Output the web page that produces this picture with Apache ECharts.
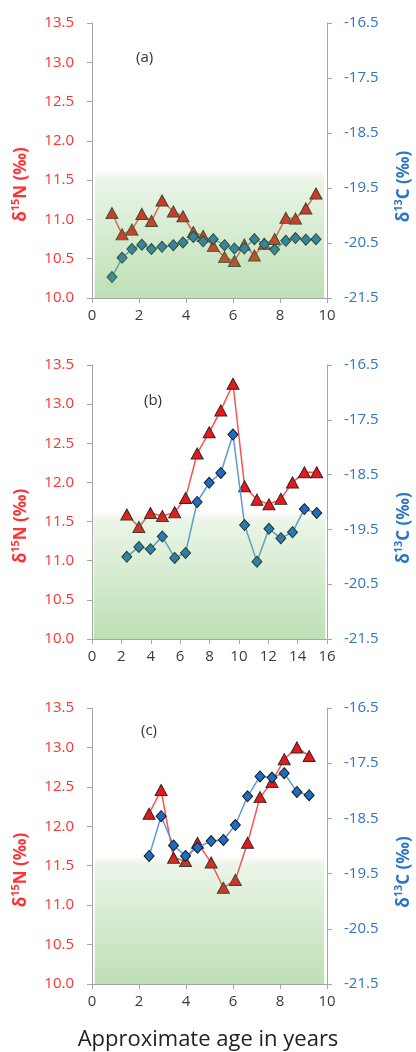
<!DOCTYPE html>
<html><head><meta charset="utf-8">
<script src="https://cdn.jsdelivr.net/npm/echarts@6/dist/echarts.min.js"></script>
<style>html,body{margin:0;padding:0;background:#fff}#c{width:416px;height:1052px}</style>
</head><body><div id="c"></div>
<script>
// Panel (a)
var ageA = [0.85,1.28,1.70,2.12,2.53,2.98,3.46,3.87,4.31,4.73,5.16,5.64,6.06,6.48,6.91,7.33,7.77,8.25,8.66,9.10,9.53];
var nA = [11.08,10.81,10.87,11.07,10.98,11.24,11.10,11.04,10.84,10.79,10.66,10.52,10.47,10.68,10.54,10.69,10.75,11.02,11.01,11.14,11.33];
var cA = [-21.12,-20.77,-20.61,-20.53,-20.61,-20.57,-20.54,-20.49,-20.39,-20.47,-20.43,-20.54,-20.60,-20.60,-20.43,-20.52,-20.62,-20.46,-20.41,-20.44,-20.43];
// Panel (b)
var ageB = [2.37,3.19,3.98,4.79,5.63,6.37,7.16,7.98,8.77,9.60,10.39,11.23,12.05,12.86,13.65,14.46,15.30];
var nB = [11.59,11.43,11.61,11.57,11.62,11.80,12.37,12.64,12.92,13.26,11.95,11.78,11.72,11.79,12.00,12.13,12.13];
var cB = [-20.00,-19.82,-19.86,-19.63,-20.02,-19.93,-19.00,-18.65,-18.47,-17.77,-19.42,-20.09,-19.49,-19.66,-19.55,-19.13,-19.20];
// Panel (c)
var ageC = [2.43,2.94,3.47,3.98,4.49,5.07,5.59,6.10,6.62,7.15,7.66,8.18,8.72,9.24];
var nC = [12.16,12.46,11.60,11.56,11.79,11.54,11.22,11.32,11.79,12.37,12.56,12.85,13.00,12.89];
var cC = [-19.18,-18.46,-18.99,-19.18,-19.03,-18.91,-18.89,-18.62,-18.10,-17.74,-17.76,-17.68,-18.02,-18.08];
// Axes
var xMax = [10, 16, 10];
var nAxis = {min: 10, max: 13.5, interval: 0.5};
var cAxis = {min: -21.5, max: -16.5, interval: 1};
var greenTop = 11.63;
var panelLabels = ['(a)', '(b)', '(c)'];
var xTitle = 'Approximate age in years';

var FONT = 'Open Sans';
var RED = '#ff3333', BLUE = '#2e75c4';
var grids = [{top: 23, height: 275}, {top: 365, height: 274}, {top: 708, height: 276}];
var labelPos = [[131, 45], [139, 388], [136, 718]];
var ages = [ageA, ageB, ageC], ns = [nA, nB, nC], cs = [cA, cB, cC];

function pairs(x, y) { return x.map(function (v, i) { return [v, y[i]]; }); }

var option = {
  animation: false,
  backgroundColor: '#fff',
  textStyle: {fontFamily: FONT},
  title: [{text: xTitle, left: 'center', top: 1024, textStyle: {fontFamily: FONT, fontSize: 22, fontWeight: 'normal', color: '#222'}}]
    .concat(panelLabels.map(function (t, i) {
      return {text: t, left: labelPos[i][0], top: labelPos[i][1], textStyle: {fontFamily: FONT, fontSize: 15, fontWeight: 'normal', color: '#333'}};
    })),
  grid: grids.map(function (g) { return {left: 92, right: 89, top: g.top, height: g.height, containLabel: false, outerBoundsMode: 'none'}; }),
  xAxis: [], yAxis: [], series: []
};

var axLine = {lineStyle: {color: '#a6a6a6', width: 1}};
for (var i = 0; i < 3; i++) {
  option.xAxis.push({
    type: 'value', gridIndex: i, min: 0, max: xMax[i], interval: 2,
    axisLine: axLine, axisTick: {show: true, length: 5, lineStyle: {color: '#a6a6a6'}},
    splitLine: {show: false},
    axisLabel: {color: '#3a3a48', fontSize: 15, fontFamily: FONT, margin: 10}
  });
  option.yAxis.push({
    type: 'value', gridIndex: i, min: nAxis.min, max: nAxis.max, interval: nAxis.interval, position: 'left',
    axisLine: {show: true, lineStyle: {color: '#a6a6a6'}}, axisTick: {show: true, length: 5, lineStyle: {color: '#a6a6a6'}},
    splitLine: {show: false},
    axisLabel: {color: RED, fontSize: 15, fontFamily: FONT, margin: 18, formatter: function (v) { return v.toFixed(1); }},
    name: '{a|δ}{b|15}{a|N (‰)}', nameLocation: 'middle', nameGap: 60, nameRotate: 90,
    nameTextStyle: {color: RED, padding: [0, 48, 0, 0], rich: {
      a: {fontSize: 17, fontWeight: 'bold', color: RED, fontFamily: FONT},
      b: {fontSize: 11, fontWeight: 'bold', color: RED, fontFamily: FONT, verticalAlign: 'top', lineHeight: 22}
    }}
  });
  option.yAxis.push({
    type: 'value', gridIndex: i, min: cAxis.min, max: cAxis.max, interval: cAxis.interval, position: 'right',
    axisLine: {show: true, lineStyle: {color: '#a6a6a6'}}, axisTick: {show: true, length: 5, lineStyle: {color: '#a6a6a6'}},
    splitLine: {show: false},
    axisLabel: {color: BLUE, fontSize: 15, fontFamily: FONT, margin: 17, formatter: function (v) { return v.toFixed(1); }},
    name: '{a|δ}{b|13}{a|C (‰)}', nameLocation: 'middle', nameGap: 66, nameRotate: 90,
    nameTextStyle: {color: BLUE, padding: [0, 52, 0, 0], rich: {
      a: {fontSize: 17, fontWeight: 'bold', color: BLUE, fontFamily: FONT},
      b: {fontSize: 11, fontWeight: 'bold', color: BLUE, fontFamily: FONT, verticalAlign: 'top', lineHeight: 22}
    }}
  });
  option.series.push({
    type: 'line', xAxisIndex: i, yAxisIndex: 2 * i, data: pairs(ages[i], ns[i]), z: 2,
    symbol: 'triangle', symbolSize: [12, 11],
    lineStyle: {color: '#ff5050', width: 1.5},
    itemStyle: {color: '#e8181a', borderColor: '#2a2a2a', borderWidth: 1}
  });
  option.series.push({
    type: 'line', xAxisIndex: i, yAxisIndex: 2 * i + 1, data: pairs(ages[i], cs[i]), z: 3,
    symbol: 'diamond', symbolSize: [10, 11],
    lineStyle: {color: '#5b9bd5', width: 1.5},
    itemStyle: {color: '#1b6fc2', borderColor: '#1a1a1a', borderWidth: 1}
  });
  option.series.push({
    type: 'line', xAxisIndex: i, yAxisIndex: 2 * i, z: 6, silent: true,
    data: [[0.12, greenTop], [xMax[i] - 0.12, greenTop]],
    symbol: 'none', lineStyle: {width: 0, opacity: 0},
    areaStyle: {origin: 'start', opacity: 1, color: {type: 'linear', x: 0, y: 0, x2: 0, y2: 1, colorStops: [
      {offset: 0, color: 'rgba(110,185,90,0.0)'},
      {offset: 0.07, color: 'rgba(110,185,90,0.14)'},
      {offset: 1, color: 'rgba(110,185,90,0.45)'}
    ]}}
  });
}

var chart = echarts.init(document.getElementById('c'), null, {renderer: 'canvas'});
chart.setOption(option);
</script></body></html>
